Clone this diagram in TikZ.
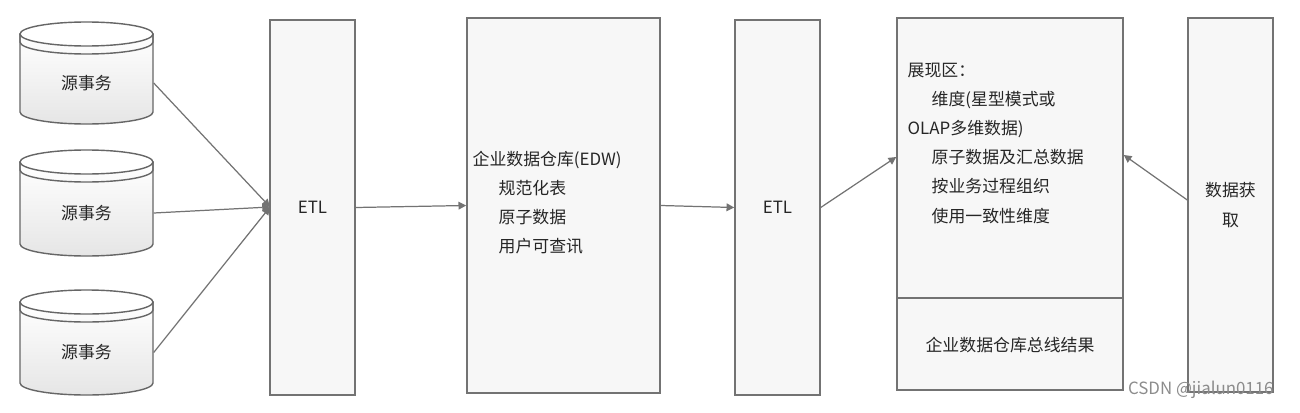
\documentclass[tikz,border=0pt]{standalone}
\usepackage{fontspec}
\setmainfont{Noto Sans CJK SC}
\usetikzlibrary{arrows.meta}
\begin{document}
\begin{tikzpicture}[x=0.01cm,y=-0.01cm,
  box/.style={draw=black!55,line width=0.4pt,fill=black!3,inner sep=0},
  lbl/.style={font=\fontsize{4.8}{8.3}\selectfont,text=black!85},
  conn/.style={draw=black!55,line width=0.35pt,-{Triangle[length=2.2pt,width=2.2pt]}},
  cylf/.style={draw=black!60,line width=0.4pt,top color=white,bottom color=black!10}]
\useasboundingbox (0,0) rectangle (1300,412);
\foreach \i/\t/\b in {1/22/124,2/150/256,3/290/395}{
  \path[cylf] (20,\t+12) -- (20,\b-12) arc[start angle=180,end angle=0,x radius=66.5,y radius=12]
    -- (153,\t+12) -- cycle;
  \draw[draw=black!60,line width=0.4pt,fill=white] (86.5,\t+12) ellipse[x radius=66.5,y radius=12];
  \draw[draw=black!60,line width=0.4pt] (20,\t+12) -- (20,\t+20) arc[start angle=180,end angle=0,x radius=66.5,y radius=12] -- (153,\t+12);
  \node[lbl,minimum width=133*0.01cm,minimum height=(\b-\t-24)*0.01cm,inner sep=0] (s\i) at (86.5,{(\t+\b)/2+10}) {源事务};
}
\node[box,minimum width=0.85cm,minimum height=3.75cm] (etl1) at (312.5,207.5) {};
\node[lbl] at (etl1) {ETL};
\node[box,minimum width=1.93cm,minimum height=3.75cm] (edw) at (563.5,205.5) {};
\node[lbl,anchor=north west,align=left,inner sep=0] at (472,150) {企业数据仓库(EDW)\\\hspace{2.6mm}规范化表\\\hspace{2.6mm}原子数据\\\hspace{2.6mm}用户可查讯};
\node[box,minimum width=0.85cm,minimum height=3.75cm] (etl2) at (777.5,207.5) {};
\node[lbl] at (etl2) {ETL};
\node[box,minimum width=2.26cm,minimum height=3.72cm] (disp) at (1010,204) {};
\draw[draw=black!55,line width=0.4pt] (disp.west |- 0,298) -- (disp.east |- 0,298);
\node[lbl,anchor=north west,align=left,inner sep=0] at (907,62) {展现区：\\\hspace{2.4mm}维度(星型模式或\\OLAP多维数据)\\\hspace{2.4mm}原子数据及汇总数据\\\hspace{2.4mm}按业务过程组织\\\hspace{2.4mm}使用一致性维度};
\node[lbl] (bus) at (1010,345) {企业数据仓库总线结果};
\node[box,minimum width=0.85cm,minimum height=3.74cm] (get) at (1230.5,205) {};
\node[lbl,align=center] at (get) {数据获\\取};
\coordinate (in1) at (270,207);
\draw[conn] (s1.east) -- (in1);
\draw[conn] (s2.east) -- (in1);
\draw[conn] (s3.east) -- (in1);
\draw[conn] (etl1.east) -- (edw.west);
\draw[conn] (edw.east) -- (etl2.west);
\draw[conn] (etl2.east) -- (disp.west |- 0,157);
\draw[conn] (get.west |- 0,200) -- (disp.east |- 0,155);
\node[lbl,text=black!45,anchor=east] (wm) at (1286,390) {CSDN @jialun0116};
\end{tikzpicture}
\end{document}
